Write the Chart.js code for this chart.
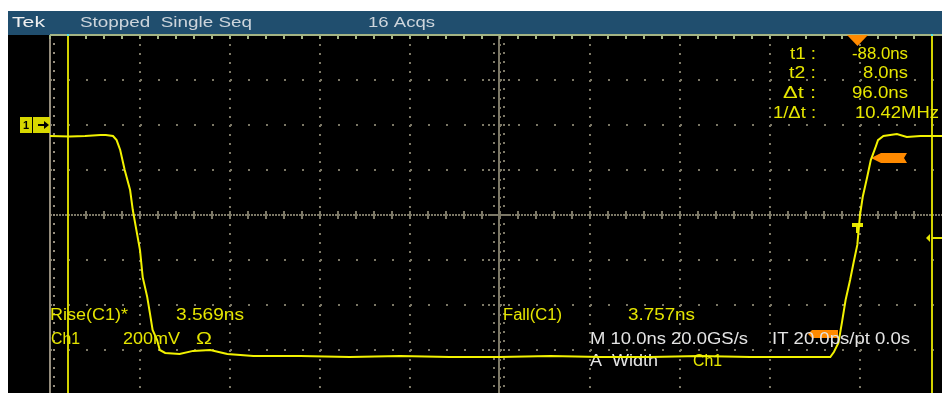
<!DOCTYPE html>
<html>
<head>
<meta charset="utf-8">
<script src="https://cdn.jsdelivr.net/npm/chart.js@4/dist/chart.umd.min.js"></script>
<style>
  html, body { margin: 0; padding: 0; width: 942px; height: 393px; overflow: hidden; background: #fff; }
  #wrap { position: absolute; left: 0; top: 0; width: 960px; height: 400px; }
</style>
</head>
<body>
<div id="wrap"><canvas id="scope" width="960" height="400"></canvas></div>
<script>
// Ch1 record: time in ns, level in mV
const timeNs = [-90, -87.8, -86.1, -84.4, -83.8, -83.0, -82.6, -82.2, -81.7, -81.1, -80.8, -80.4, -80.0, -79.7, -79.2,
  -78.9, -78.6, -78.1, -77.8, -77.2, -75.6, -74.1, -72.2, -70.3, -67.4, -62.2, -56.7, -51.1, -45.6, -40.0, -34.4,
  -28.9, -23.3, -17.8, -12.2, -6.7, -3.3, -2.9, -2.4, -2.0, -1.6, -1.1, -0.7, -0.3, 0.0, 0.3, 0.8, 1.2, 1.7, 2.0,
  2.6, 4.1, 5.2, 6.7, 10];
const ch1mV = [-49, -51, -49, -44, -44, -49, -67, -111, -200, -289, -378, -467, -556, -676, -764,
  -836, -911, -956, -1000, -1013, -1018, -1004, -1000, -1018, -1027, -1027, -1031, -1027, -1031, -1031, -1027,
  -1031, -1031, -1027, -1031, -1031, -1031, -1009, -969, -876, -778, -689, -609, -533, -400, -320, -231, -156, -102, -67,
  -49, -40, -53, -49, -49];

// graticule: 10 ns/div, 200 mV/div
const timeRange = [-90, 10];
const levelRange = [-1200, 400];
const timePerDiv = 10;
const mVPerDiv = 200;

// cursors and markers
const cursorTimes = [-88, 8];
const triggerTime = 0;
const triggerLevelmV = -147;
const groundmV = 0;

// texts
const statusTexts = ['Tek', 'Stopped  Single Seq', '16 Acqs'];
const cursorLabels = ['t1 :', 't2 :', 'Δt :', '1/Δt :'];
const cursorValues = ['-88.0ns', '8.0ns', '96.0ns', '10.42MHz'];
const measureLabels = ['Rise(C1)*', 'Fall(C1)'];
const measureValues = ['3.569ns', '3.757ns'];

const YEL = '#e6e600';
const WHT = '#e4e4e4';
const GRAT = '#7c7866';
const ORANGE = '#ff8a00';

function fitText(ctx, str, x, base, w, color, size) {
  ctx.font = (size || 16) + 'px "Liberation Sans"';
  const m = ctx.measureText(str).width;
  ctx.save();
  ctx.translate(x, base);
  ctx.scale(w / m, 1);
  ctx.fillStyle = color;
  ctx.textBaseline = 'alphabetic';
  ctx.fillText(str, 0, 0);
  ctx.restore();
}

const scopeScreen = {
  id: 'scopeScreen',
  beforeDraw(chart) {
    const ctx = chart.ctx;
    ctx.save();
    ctx.fillStyle = '#ffffff';
    ctx.fillRect(0, 0, chart.width, chart.height);
    ctx.fillStyle = '#000000';
    ctx.fillRect(8, 35, chart.width, chart.height);
    ctx.fillStyle = '#204e6e';
    ctx.fillRect(8, 11, chart.width, 24);
    fitText(ctx, statusTexts[0], 12, 27, 33, '#f0f0f0', 15);
    fitText(ctx, statusTexts[1], 80, 27, 172, '#cdd5dc', 15);
    fitText(ctx, statusTexts[2], 368, 27, 67, '#cdd5dc', 15);
    ctx.restore();
  },
  beforeDatasetsDraw(chart) {
    const {ctx, chartArea: a, scales: {x, y}} = chart;
    ctx.save();
    const cx = Math.round(x.getPixelForValue((timeRange[0] + timeRange[1]) / 2)) - 1;
    const cy = Math.round(y.getPixelForValue((levelRange[0] + levelRange[1]) / 2));
    const minorX = (x.getPixelForValue(timePerDiv) - x.getPixelForValue(0)) / 5;
    const minorY = (y.getPixelForValue(0) - y.getPixelForValue(mVPerDiv)) / 5;

    ctx.fillStyle = GRAT;
    // centre horizontal axis
    for (let px = a.left; px < a.right; px += 3) ctx.fillRect(px, cy - 1, 2, 2);
    for (let px = a.left; px <= a.right; px += minorX) ctx.fillRect(Math.round(px) - 1, cy - 4, 2, 8);
    // centre vertical axis
    ctx.fillRect(cx - 1, a.top, 2, a.bottom - a.top);
    for (let py = a.top; py <= a.bottom; py += minorY) {
      ctx.fillRect(cx - 6, Math.round(py) - 1, 2, 2);
      ctx.fillRect(cx + 4, Math.round(py) - 1, 2, 2);
    }
    for (let py = a.top; py <= a.bottom; py += minorY * 5) {
      ctx.fillRect(cx - 11, Math.round(py) - 1, 2, 2);
      ctx.fillRect(cx + 9, Math.round(py) - 1, 2, 2);
    }
    ctx.fillRect(cx - 11, cy - 1, 23, 2);
    // left edge
    ctx.fillStyle = '#948c7c';
    ctx.fillRect(a.left - 1, a.top, 2, a.bottom - a.top);
    for (let py = a.top; py <= a.bottom; py += minorY) ctx.fillRect(a.left + 3, Math.round(py) - 1, 2, 2);
    // top edge
    ctx.fillStyle = '#a4b484';
    ctx.fillRect(a.left, a.top - 1, a.right - a.left, 2);
    for (let px = a.left; px <= a.right; px += minorX) ctx.fillRect(Math.round(px) - 1, a.top, 2, 4);

    // cursors
    cursorTimes.forEach(t => {
      const px = Math.round(x.getPixelForValue(t));
      ctx.fillStyle = '#d2d200';
      ctx.fillRect(px - 1, a.top, 2, a.bottom - a.top);
      ctx.fillStyle = '#50e0e0';
      ctx.fillRect(px - 1, a.top - 1, 2, 2);
    });

    // trigger markers
    const tx = x.getPixelForValue(triggerTime);
    const ty = y.getPixelForValue((levelRange[0] + levelRange[1]) / 2);
    const ly = Math.round(y.getPixelForValue(triggerLevelmV));
    ctx.fillStyle = ORANGE;
    ctx.beginPath();
    ctx.moveTo(tx - 13, a.top);
    ctx.lineTo(tx + 8, a.top);
    ctx.lineTo(tx - 2.5, a.top + 11);
    ctx.closePath();
    ctx.fill();
    ctx.beginPath();
    ctx.moveTo(tx + 11, ly);
    ctx.lineTo(tx + 21, ly - 5);
    ctx.lineTo(tx + 47, ly - 5);
    ctx.lineTo(tx + 44, ly);
    ctx.lineTo(tx + 47, ly + 5);
    ctx.lineTo(tx + 21, ly + 5);
    ctx.closePath();
    ctx.fill();
    const by = Math.round(y.getPixelForValue(-930));
    ctx.beginPath();
    ctx.moveTo(tx - 52, by);
    ctx.lineTo(tx - 48, by - 4);
    ctx.lineTo(tx - 22, by - 4);
    ctx.lineTo(tx - 22, by + 4);
    ctx.lineTo(tx - 48, by + 4);
    ctx.closePath();
    ctx.fill();

    // trigger point "T"
    ctx.fillStyle = YEL;
    ctx.fillRect(Math.round(tx) - 8, Math.round(ty) + 8, 11, 4);
    ctx.fillRect(Math.round(tx) - 4, Math.round(ty) + 12, 3, 6);

    // cursor readout pointer on right
    const rx = Math.round(x.getPixelForValue(cursorTimes[1]));
    ctx.beginPath();
    ctx.moveTo(rx - 6, 238);
    ctx.lineTo(rx - 2, 234);
    ctx.lineTo(rx - 2, 242);
    ctx.closePath();
    ctx.fill();
    ctx.fillRect(rx, 237, 14, 2);

    // ground marker "1 ->"
    const gy = Math.round(y.getPixelForValue(groundmV));
    ctx.fillStyle = '#d8d800';
    ctx.fillRect(20, gy - 8, 12, 16);
    ctx.fillRect(33, gy - 8, 17, 16);
    ctx.fillStyle = '#000';
    ctx.font = 'bold 11px "Liberation Sans"';
    ctx.fillText('1', 23, gy + 4);
    ctx.fillRect(38, gy - 1, 7, 2);
    ctx.beginPath();
    ctx.moveTo(49, gy);
    ctx.lineTo(44, gy - 4);
    ctx.lineTo(44, gy + 4);
    ctx.closePath();
    ctx.fill();

    // lower readout partly under the trace
    fitText(ctx, 'A  Width', 590, 366, 68, WHT);
    fitText(ctx, 'Ch1', 693, 366, 29, YEL);
    ctx.restore();
  },
  afterDatasetsDraw(chart) {
    const ctx = chart.ctx;
    ctx.save();
    const rows = [59, 78, 98, 118];
    const lx = [790, 789, 783, 773], lw = [26, 27, 33, 43];
    const vx = [852, 863, 852, 855], vw = [56, 45, 56, 84];
    cursorLabels.forEach((s, i) => fitText(ctx, s, lx[i], rows[i], lw[i], YEL));
    cursorValues.forEach((s, i) => fitText(ctx, s, vx[i], rows[i], vw[i], YEL));

    fitText(ctx, measureLabels[0], 50, 320, 78, YEL);
    fitText(ctx, measureValues[0], 176, 320, 68, YEL);
    fitText(ctx, measureLabels[1], 503, 320, 59, YEL);
    fitText(ctx, measureValues[1], 628, 320, 67, YEL);
    fitText(ctx, 'Ch1', 51, 344, 29, YEL);
    fitText(ctx, '200mV', 123, 344, 57, YEL);
    fitText(ctx, 'Ω', 196, 344, 16, YEL);
    fitText(ctx, 'M 10.0ns 20.0GS/s', 590, 344, 158, WHT);
    fitText(ctx, 'IT 20.0ps/pt 0.0s', 772, 344, 138, WHT);
    ctx.restore();
  }
};

new Chart(document.getElementById('scope'), {
  type: 'line',
  data: {
    datasets: [{
      label: 'Ch1',
      data: timeNs.map((t, i) => ({x: t, y: ch1mV[i]})),
      borderColor: '#f2f200',
      borderWidth: 2,
      pointRadius: 0,
      tension: 0
    }]
  },
  options: {
    responsive: false,
    animation: false,
    devicePixelRatio: 1,
    events: [],
    layout: {autoPadding: false, padding: {left: 50, top: 35, right: 10, bottom: 5}},
    plugins: {legend: {display: false}, tooltip: {enabled: false}},
    scales: {
      x: {
        type: 'linear', min: timeRange[0], max: timeRange[1],
        ticks: {display: false, stepSize: timePerDiv},
        grid: {drawTicks: false, color: GRAT, lineWidth: 2},
        border: {display: false, dash: [2, 7]}
      },
      y: {
        type: 'linear', min: levelRange[0], max: levelRange[1],
        ticks: {display: false, stepSize: mVPerDiv},
        grid: {drawTicks: false, color: GRAT, lineWidth: 2},
        border: {display: false, dash: [2, 16]}
      }
    }
  },
  plugins: [scopeScreen]
});
</script>
</body>
</html>
